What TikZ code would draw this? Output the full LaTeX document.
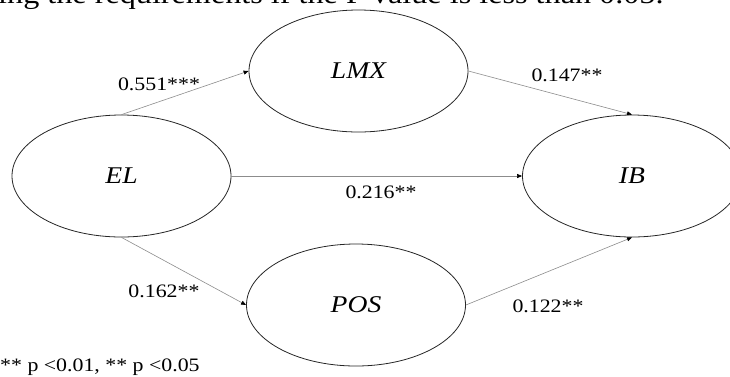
\documentclass[tikz,border=0pt]{standalone}
\usepackage{fontspec}
\setmainfont{Liberation Serif}
\usetikzlibrary{arrows.meta,shapes.geometric}
\newcommand{\hstretch}[1]{\scalebox{1.15}[1]{#1}}
\tikzset{
  latent/.style={ellipse, draw=black!85, line width=0.8pt, minimum width=219pt, minimum height=122pt, inner sep=0pt,
    font=\fontsize{24}{24}\selectfont\itshape},
  path/.style={draw=black!45, line width=0.6pt, -{Triangle[length=5pt,width=4pt,color=black]}},
  coef/.style={anchor=base, inner sep=0pt, font=\fontsize{19}{19}\selectfont},
}
\begin{document}
\begin{tikzpicture}[x=1pt,y=-1pt]
\useasboundingbox (0,0) rectangle (730,376);
\node[anchor=base west, inner sep=0pt, font=\fontsize{28}{28}\selectfont] (head) at (-2,3.5) {\hstretch{ing the requirements if the P value is less than 0.05.}};
\node[latent] (EL) at (121.5,176) {\hstretch{EL}};
\node[latent] (LMX) at (358.5,71) {\hstretch{LMX}};
\node[latent] (POS) at (356,305) {\hstretch{POS}};
\node[latent] (IB) at (632,176) {\hstretch{IB}};
\draw[path] (EL.north) -- (LMX.west);
\draw[path] (LMX.east) -- (IB.north);
\draw[path] (EL.east) -- (IB.west);
\draw[path] (EL.south) -- (POS.west);
\draw[path] (POS.east) -- (IB.south);
\node[coef] (c1) at (159,90) {\hstretch{0.551***}};
\node[coef] (c2) at (567,81) {\hstretch{0.147**}};
\node[coef] (c3) at (381,198) {\hstretch{0.216**}};
\node[coef] (c4) at (164,297) {\hstretch{0.162**}};
\node[coef] (c5) at (548,312) {\hstretch{0.122**}};
\node[anchor=base west, inner sep=0pt, font=\fontsize{19}{19}\selectfont] (note) at (0,371) {\hstretch{** p <0.01, ** p <0.05}};
\end{tikzpicture}
\end{document}
